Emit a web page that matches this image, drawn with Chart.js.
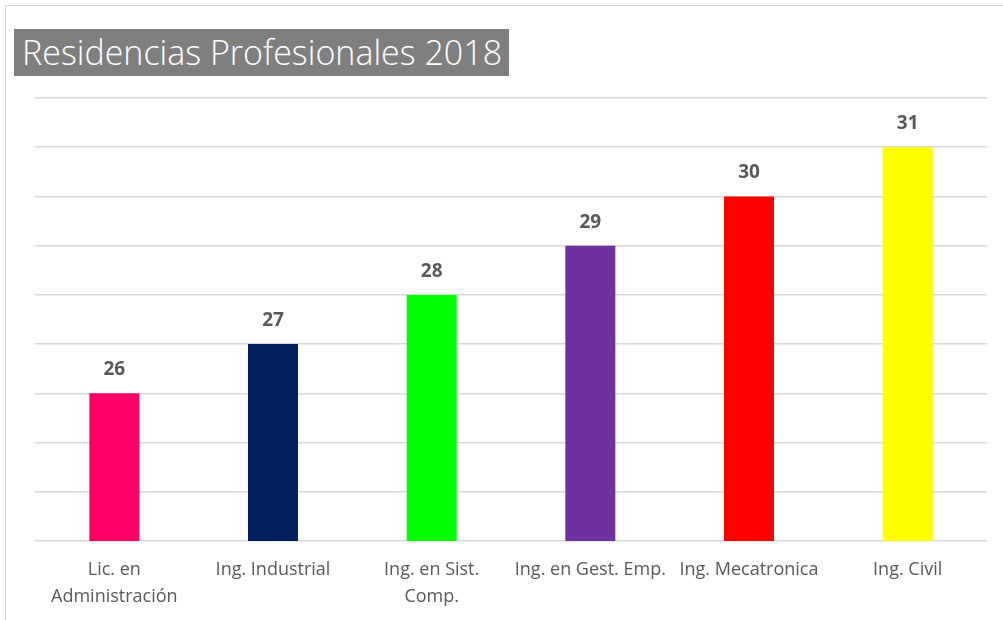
<!DOCTYPE html>
<html lang="es">
<head>
    <meta charset="UTF-8">
    <title>Residencias Profesionales 2018</title>
    <script src="https://cdn.jsdelivr.net/npm/chart.js"></script>
    <style>
        body {
            margin: 0;
            background: white;
            width: 1003px;
            height: 620px;
            overflow: hidden;
            position: relative;
        }
        #frame {
            position: absolute;
            left: 5px;
            top: 5px;
            width: 1100px;
            height: 700px;
            border-left: 1px solid #d9d9d9;
            border-top: 1px solid #d9d9d9;
        }
        #title {
            position: absolute;
            left: 14px;
            top: 29px;
            width: 495px;
            height: 47px;
            background: #7f7f7f;
            color: white;
            font-family: "Open Sans", sans-serif;
            font-weight: 300;
            font-size: 34px;
            line-height: 47px;
            padding-left: 8px;
            box-sizing: border-box;
            white-space: nowrap;
            z-index: 2;
        }
        #wrap {
            position: absolute;
            left: 0;
            top: 0;
            width: 1003px;
            height: 620px;
        }
    </style>
</head>
<body>
    <div id="frame"></div>
    <div id="title">Residencias Profesionales 2018</div>
    <div id="wrap">
        <canvas id="residencias"></canvas>
    </div>

    <script>
        const carreras = [
            ["Lic. en", "Administración"],
            "Ing. Industrial",
            ["Ing. en Sist.", "Comp."],
            "Ing. en Gest. Emp.",
            "Ing. Mecatronica",
            "Ing. Civil"
        ];
        const residentes = [26, 27, 28, 29, 30, 31];
        const colores = ["#ff0066", "#002060", "#00ff00", "#7030a0", "#ff0000", "#ffff00"];

        // numeros encima de cada barra
        const etiquetas = {
            id: "etiquetas",
            afterDatasetsDraw(chart) {
                const ctx = chart.ctx;
                const meta = chart.getDatasetMeta(0);
                ctx.save();
                ctx.font = "bold 19px 'Open Sans', sans-serif";
                ctx.fillStyle = "#595959";
                ctx.textAlign = "center";
                ctx.textBaseline = "bottom";
                meta.data.forEach((bar, i) => {
                    ctx.fillText(residentes[i], bar.x, bar.y - 14);
                });
                ctx.restore();
            }
        };

        new Chart(document.getElementById("residencias"), {
            type: "bar",
            data: {
                labels: carreras,
                datasets: [{
                    data: residentes,
                    backgroundColor: colores,
                    categoryPercentage: 1,
                    barPercentage: 0.315
                }]
            },
            options: {
                responsive: true,
                maintainAspectRatio: false,
                animation: false,
                layout: {
                    padding: { left: 35, right: 16, top: 98, bottom: 3 }
                },
                plugins: {
                    legend: { display: false },
                    tooltip: { enabled: false }
                },
                scales: {
                    x: {
                        grid: { display: false },
                        border: { display: false },
                        ticks: {
                            color: "#595959",
                            font: { family: "'Open Sans', sans-serif", size: 18, lineHeight: 1.5 },
                            maxRotation: 0,
                            autoSkip: false,
                            padding: 7
                        }
                    },
                    y: {
                        min: 23,
                        max: 32,
                        ticks: { display: false, stepSize: 1 },
                        border: { display: false },
                        grid: { color: "#d9d9d9", lineWidth: 1.5, drawTicks: false }
                    }
                }
            },
            plugins: [etiquetas]
        });
    </script>
</body>
</html>
